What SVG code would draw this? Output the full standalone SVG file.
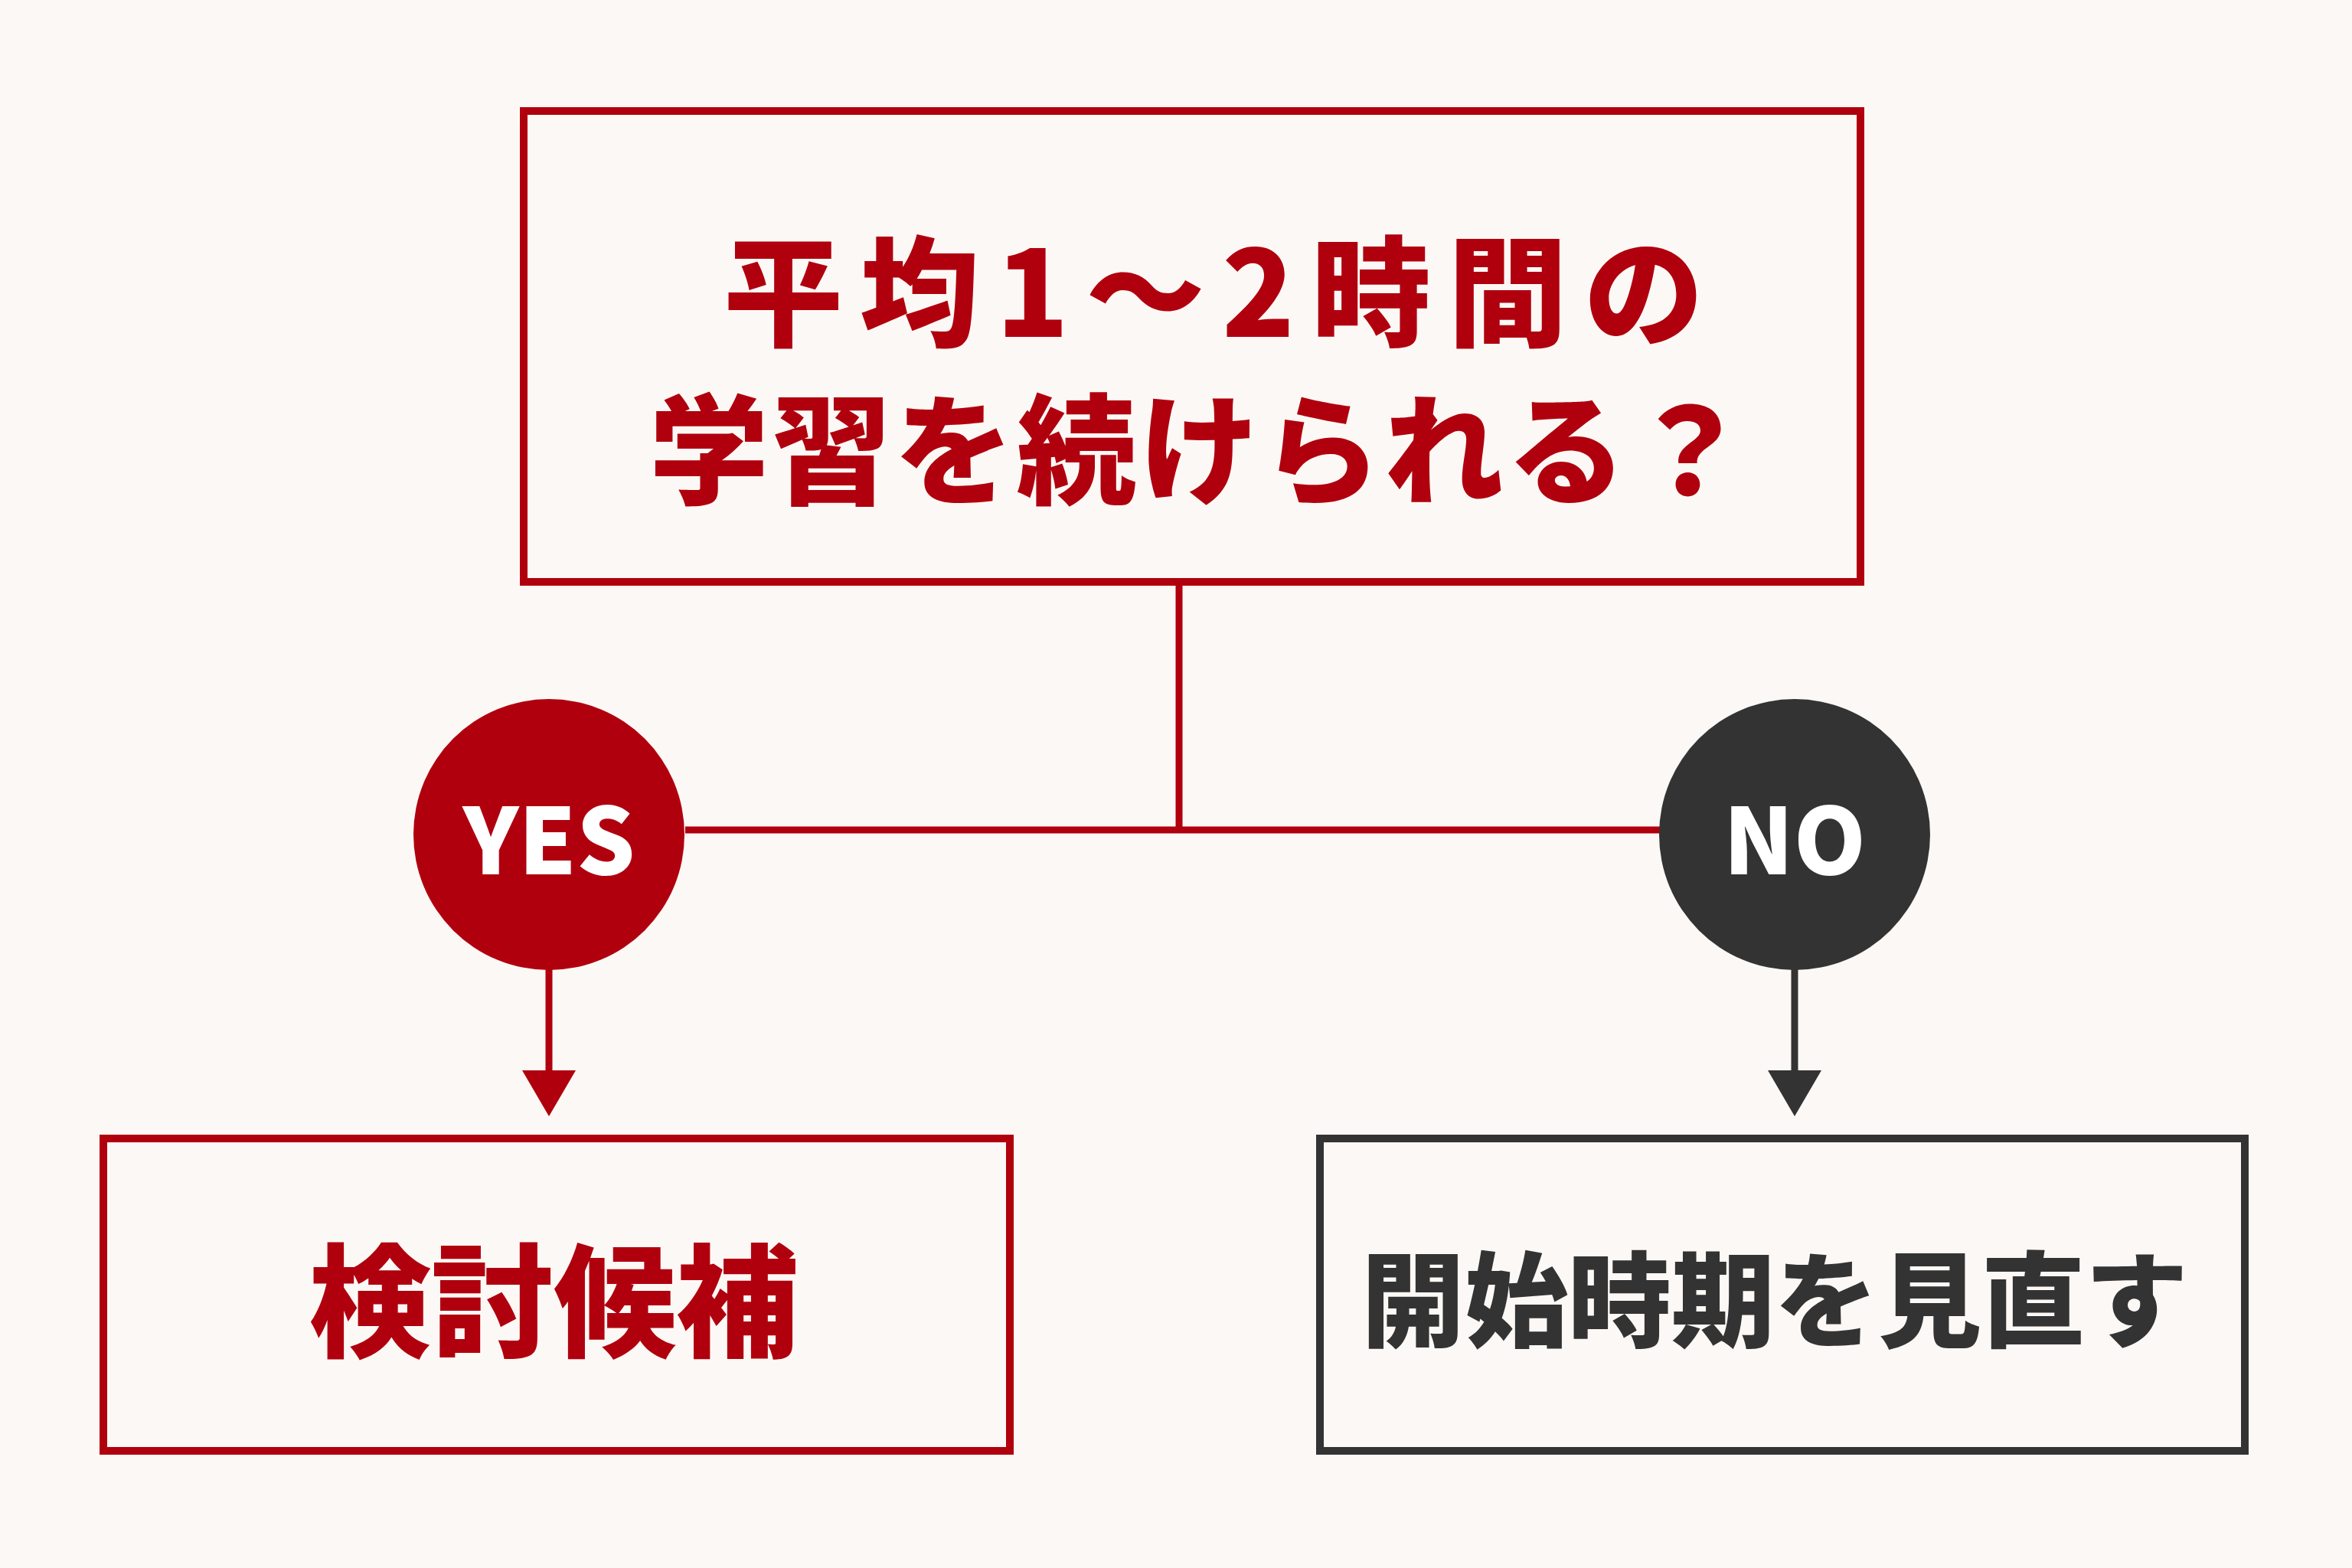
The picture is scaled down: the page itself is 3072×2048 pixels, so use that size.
<svg xmlns="http://www.w3.org/2000/svg" width="3072" height="2048" viewBox="0 0 3072 2048">
<style>
.t{font-family:"Noto Sans CJK JP","Noto Sans",sans-serif;font-weight:900;text-anchor:middle;dominant-baseline:central}
.r{fill:#B0000E}.d{fill:#333333}.w{fill:#ffffff}
</style>
<rect width="3072" height="2048" fill="#FCF8F5"/>
<g id="connectors" fill="none" stroke-width="9">
<path d="M1540 762 V1084 M895 1084 H2171" stroke="#B0000E"/>
<path d="M717 1264 V1410" stroke="#B0000E"/>
<path d="M682 1398 L717 1458 L752 1398 Z" fill="#B0000E" stroke="none"/>
<path d="M2344 1264 V1410" stroke="#333"/>
<path d="M2309 1398 L2344 1458 L2379 1398 Z" fill="#333" stroke="none"/>
</g>
<g id="question">
<rect x="684" y="145" width="1746" height="615" fill="none" stroke="#B0000E" stroke-width="10"/>
<text class="t r" x="1596" y="372" font-size="156" letter-spacing="22">平均1～2時間の</text>
<text class="t r" x="1568" y="578" font-size="156" letter-spacing="4">学習を続けられる？</text>
</g>
<g id="yes">
<circle cx="717" cy="1090" r="177" fill="#B0000E"/>
<text class="t w" x="717" y="1090" font-size="120">YES</text>
</g>
<g id="no">
<circle cx="2344" cy="1090" r="177" fill="#333"/>
<text class="t w" x="2344" y="1090" font-size="120">NO</text>
</g>
<g id="candidate">
<rect x="135" y="1487" width="1184" height="408" fill="none" stroke="#B0000E" stroke-width="10"/>
<text class="t r" x="723" y="1690" font-size="160">検討候補</text>
</g>
<g id="review">
<rect x="1724" y="1487" width="1208" height="408" fill="none" stroke="#333" stroke-width="10"/>
<text class="t d" x="2318" y="1690" font-size="135">開始時期を見直す</text>
</g>
</svg>
